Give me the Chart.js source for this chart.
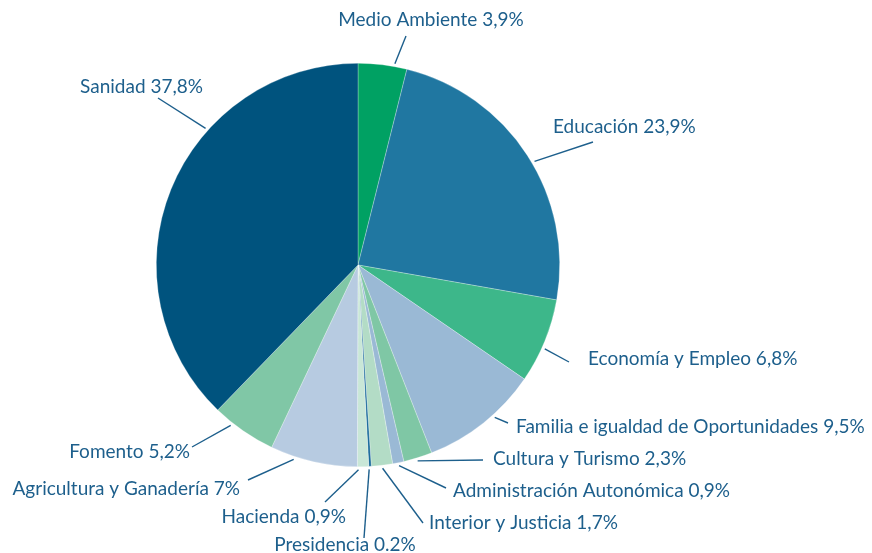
<!DOCTYPE html>
<html>
<head>
<meta charset="utf-8">
<script src="https://cdn.jsdelivr.net/npm/chart.js@4"></script>
<style>
  html, body { margin: 0; padding: 0; background: #fff; }
  #wrap { width: 872px; height: 553px; }
</style>
</head>
<body>
<div id="wrap"><canvas id="pie-chart" width="872" height="553"></canvas></div>
<script>
const categories = [
  "Medio Ambiente", "Educación", "Economía y Empleo",
  "Familia e igualdad de Oportunidades", "Cultura y Turismo",
  "Administración Autonómica", "Interior y Justicia", "Presidencia",
  "Hacienda", "Agricultura y Ganadería", "Fomento", "Sanidad"
];
const values = [3.9, 23.9, 6.8, 9.5, 2.3, 0.9, 1.7, 0.2, 0.9, 7, 5.2, 37.8];
const valueLabels = ["3,9%", "23,9%", "6,8%", "9,5%", "2,3%", "0,9%", "1,7%", "0.2%", "0,9%", "7%", "5,2%", "37,8%"];
const colors = [
  "#00a163", "#2077a1", "#3db78a", "#9ab9d5", "#7fc7a5", "#9ab9d5",
  "#b3dcc6", "#1c6c9c", "#c9e7d7", "#b7cbe1", "#80c7a6", "#00537e"
];

// label placement: t = where on the slice the leader starts, end = leader end, text pos
const labelLayout = [
  { t: 0.74, end: [406, 36], x: 431, y: 20, align: "center" },
  { t: 0.53, end: [593, 142], x: 553, y: 127, align: "left" },
  { t: 0.58, end: [569, 362], x: 588, y: 359, align: "left" },
  { t: 0.40, end: [508, 423], x: 516, y: 427, align: "left" },
  { t: 0.54, end: [483, 460], x: 493, y: 459, align: "left" },
  { t: 0.48, end: [446, 488], x: 453, y: 491, align: "left" },
  { t: 0.49, end: [423, 523], x: 429, y: 523, align: "left" },
  { t: 0.90, end: [364, 538], x: 345, y: 545, align: "center" },
  { t: 0.90, end: [325, 502], x: 346, y: 517, align: "right" },
  { t: 0.72, end: [248, 480], x: 240, y: 489, align: "right" },
  { t: 0.70, end: [192, 447], x: 190, y: 452, align: "right" },
  { t: 0.646, end: [158, 98], x: 203, y: 87, align: "right" }
];

const textColor = "#1d5f8c";

const calloutPlugin = {
  id: "callouts",
  afterDatasetsDraw(chart) {
    const ctx = chart.ctx;
    const arcs = chart.getDatasetMeta(0).data;
    ctx.save();
    ctx.font = "19px Lato";
    ctx.textBaseline = "middle";
    arcs.forEach((arc, i) => {
      const lay = labelLayout[i];
      const a = arc.startAngle + lay.t * (arc.endAngle - arc.startAngle);
      const r = arc.outerRadius + 3;
      const sx = arc.x + Math.cos(a) * r;
      const sy = arc.y + Math.sin(a) * r;
      ctx.strokeStyle = textColor;
      ctx.lineWidth = 1.4;
      ctx.beginPath();
      ctx.moveTo(sx, sy);
      ctx.lineTo(lay.end[0], lay.end[1]);
      ctx.stroke();
      ctx.fillStyle = textColor;
      ctx.textAlign = lay.align;
      ctx.fillText(categories[i] + " " + valueLabels[i], lay.x, lay.y);
    });
    ctx.restore();
  }
};

new Chart(document.getElementById("pie-chart").getContext("2d"), {
  type: "pie",
  data: {
    labels: categories,
    datasets: [{
      data: values,
      backgroundColor: colors,
      borderColor: "rgba(255,255,255,0.45)",
      borderWidth: 0.6
    }]
  },
  options: {
    responsive: false,
    animation: false,
    layout: {
      padding: { left: 156, right: 312, top: 63, bottom: 86 }
    },
    plugins: {
      legend: { display: false },
      tooltip: { enabled: false }
    }
  },
  plugins: [calloutPlugin]
});
</script>
</body>
</html>
